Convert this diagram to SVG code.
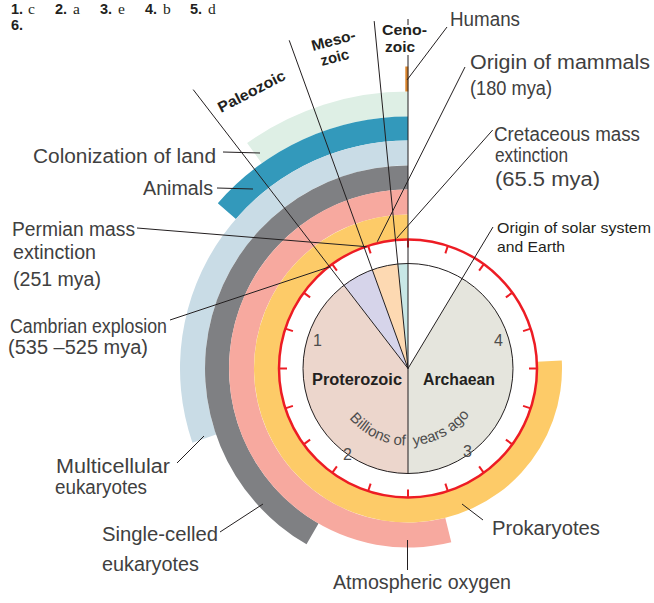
<svg xmlns="http://www.w3.org/2000/svg" xmlns:xlink="http://www.w3.org/1999/xlink" width="654" height="603" viewBox="0 0 654 603">
  <style>
    .hand { font-family: "Liberation Sans", "DejaVu Sans", sans-serif; font-size: 20px; fill: #404040; }
    .era { font-family: "Liberation Sans", "DejaVu Sans", sans-serif; font-size: 15px; font-weight: bold; fill: #231f20; }
    .print { font-family: "Liberation Sans", "DejaVu Sans", sans-serif; font-size: 15px; fill: #231f20; }
    .num { font-family: "Liberation Sans", "DejaVu Sans", sans-serif; font-size: 16px; fill: #4d4d4d; }
    .arc { font-family: "Liberation Sans", "DejaVu Sans", sans-serif; font-size: 15px; fill: #4d4d4d; }
    .qn { font-family: "Liberation Sans", "DejaVu Sans", sans-serif; font-size: 14.5px; font-weight: bold; fill: #231f20; }
    .qa { font-family: "Liberation Serif", "DejaVu Serif", serif; font-size: 15.5px; fill: #231f20; }
    .ln { stroke: #231f20; stroke-width: 1; fill: none; }
    .tick { stroke: #ed1c24; stroke-width: 2; }
  </style>
  <defs>
    <line id="tick" class="tick" x1="408" y1="239.5" x2="408" y2="247.5"/>
    <path id="yearsArc" d="M331,368.5 A77,77 0 0 0 485,368.5"/>
  </defs>

  <rect width="654" height="603" fill="#ffffff"/>

  <!-- answer key -->
  <g id="answers">
    <text class="qn" x="11" y="13.5">1.</text><text class="qa" x="28" y="13.5">c</text>
    <text class="qn" x="55" y="13.5">2.</text><text class="qa" x="73" y="13.5">a</text>
    <text class="qn" x="100" y="13.5">3.</text><text class="qa" x="118" y="13.5">e</text>
    <text class="qn" x="145" y="13.5">4.</text><text class="qa" x="163" y="13.5">b</text>
    <text class="qn" x="190" y="13.5">5.</text><text class="qa" x="208" y="13.5">d</text>
    <text class="qn" x="11" y="30">6.</text>
  </g>

  <!-- life bands, all starting at the present (top) and running back in time anticlockwise -->
  <g id="bands">
    <path id="band-land" fill="#deefe5" d="M408,91.5 A277,277 0 0 0 247.1,143.0 L261.7,163.3 A252,252 0 0 1 408,116.5 Z"/>
    <path id="band-animals" fill="#3399bb" d="M408,116.5 A252,252 0 0 0 217.8,203.2 L235.9,218.9 A228,228 0 0 1 408,140.5 Z"/>
    <path id="band-multicellular" fill="#c9dce6" d="M408,140.5 A228,228 0 0 0 192.4,442.7 L216.1,434.6 A203,203 0 0 1 408,165.5 Z"/>
    <path id="band-single" fill="#7f8083" d="M408,165.5 A203,203 0 0 0 306.5,544.3 L318.5,523.5 A179,179 0 0 1 408,189.5 Z"/>
    <path id="band-oxygen" fill="#f7a99f" d="M408,189.5 A179,179 0 1 0 451.3,542.2 L445.3,517.9 A154,154 0 1 1 408,214.5 Z"/>
    <path id="band-prokaryotes" fill="#fdcb68" d="M408,214.5 A154,154 0 1 0 561.8,360.4 L536.8,361.7 A129,129 0 1 1 408,239.5 Z"/>
  </g>

  <!-- geologic clock -->
  <g id="clock">
    <path id="eon-cenozoic" fill="#c8e7e6" d="M408,368.5 L408,263.5 A105,105 0 0 0 397.8,264.0 Z"/>
    <path id="eon-mesozoic" fill="#fdd9b2" d="M408,368.5 L397.8,264.0 A105,105 0 0 0 372.3,269.8 Z"/>
    <path id="eon-paleozoic" fill="#d6d4ea" d="M408,368.5 L372.3,269.8 A105,105 0 0 0 343.9,285.3 Z"/>
    <path id="eon-proterozoic" fill="#ecd6cc" d="M408,368.5 L343.9,285.3 A105,105 0 0 0 408,473.5 Z"/>
    <path id="eon-archaean" fill="#e5e5dd" d="M408,368.5 L408,473.5 A105,105 0 0 0 462.1,278.5 Z"/>
    <circle cx="408" cy="368.5" r="105" class="ln"/>
    <circle id="ring" cx="408" cy="368.5" r="129" fill="none" stroke="#ed1c24" stroke-width="2.5"/>
    <g id="ticks">
      <use href="#tick"/>
      <use href="#tick" transform="rotate(18 408 368.5)"/>
      <use href="#tick" transform="rotate(36 408 368.5)"/>
      <use href="#tick" transform="rotate(54 408 368.5)"/>
      <use href="#tick" transform="rotate(72 408 368.5)"/>
      <use href="#tick" transform="rotate(90 408 368.5)"/>
      <use href="#tick" transform="rotate(108 408 368.5)"/>
      <use href="#tick" transform="rotate(126 408 368.5)"/>
      <use href="#tick" transform="rotate(144 408 368.5)"/>
      <use href="#tick" transform="rotate(162 408 368.5)"/>
      <use href="#tick" transform="rotate(180 408 368.5)"/>
      <use href="#tick" transform="rotate(198 408 368.5)"/>
      <use href="#tick" transform="rotate(216 408 368.5)"/>
      <use href="#tick" transform="rotate(234 408 368.5)"/>
      <use href="#tick" transform="rotate(252 408 368.5)"/>
      <use href="#tick" transform="rotate(270 408 368.5)"/>
      <use href="#tick" transform="rotate(288 408 368.5)"/>
      <use href="#tick" transform="rotate(306 408 368.5)"/>
      <use href="#tick" transform="rotate(324 408 368.5)"/>
      <use href="#tick" transform="rotate(342 408 368.5)"/>
    </g>
    <rect id="humans-mark" x="405.3" y="66.5" width="3" height="25" fill="#d9832b"/>
  </g>

  <!-- era dividers and label leaders -->
  <g id="connectors" class="ln">
    <line x1="193.2" y1="89.6" x2="408" y2="368.5"/>
    <line x1="289.2" y1="40.3" x2="408" y2="368.5"/>
    <line x1="374.2" y1="21.1" x2="408" y2="368.5"/>
    <line x1="408" y1="19" x2="408" y2="25"/>
    <line x1="408" y1="55" x2="408" y2="473.5"/>
    <line x1="493" y1="227" x2="408" y2="368.5"/>
    <line x1="447" y1="27" x2="407" y2="80"/>
    <line x1="465" y1="67" x2="377.3" y2="241.7"/>
    <line x1="492.7" y1="130" x2="396.7" y2="238.3"/>
    <line x1="223" y1="152" x2="260" y2="153"/>
    <line x1="217" y1="188" x2="253" y2="189"/>
    <line x1="137" y1="228" x2="366.7" y2="246.7"/>
    <line x1="170" y1="320" x2="330" y2="266.7"/>
    <line x1="177" y1="463" x2="204" y2="436"/>
    <line x1="220" y1="532" x2="263" y2="504"/>
    <line x1="462" y1="504" x2="483" y2="520"/>
    <line x1="407.5" y1="540" x2="407.5" y2="570"/>
  </g>

  <!-- era names -->
  <g id="era-labels">
    <text class="era" x="221" y="113" textLength="74" lengthAdjust="spacingAndGlyphs" transform="rotate(-27.4 221 113)">Paleozoic</text>
    <text class="era" x="313" y="51" textLength="45" lengthAdjust="spacingAndGlyphs" transform="rotate(-15 313 51)">Meso-</text>
    <text class="era" x="322" y="66" textLength="29" lengthAdjust="spacingAndGlyphs" transform="rotate(-15 322 66)">zoic</text>
    <text class="era" x="382" y="35" textLength="45" lengthAdjust="spacingAndGlyphs">Ceno-</text>
    <text class="era" x="385" y="51.5" textLength="30" lengthAdjust="spacingAndGlyphs">zoic</text>
    <text class="era" x="312" y="385" style="font-size:16px" textLength="90" lengthAdjust="spacingAndGlyphs">Proterozoic</text>
    <text class="era" x="423" y="385" style="font-size:16px" textLength="72" lengthAdjust="spacingAndGlyphs">Archaean</text>
  </g>

  <!-- clock scale; the curved caption is set word by word along one arc -->
  <g id="scale">
    <text class="num" x="313" y="346">1</text>
    <text class="num" x="343" y="460">2</text>
    <text class="num" x="463" y="457">3</text>
    <text class="num" x="494" y="346">4</text>
    <text class="arc"><textPath href="#yearsArc" startOffset="54">Billions</textPath></text>
    <text class="arc"><textPath href="#yearsArc" startOffset="105.6">of</textPath></text>
    <text class="arc"><textPath href="#yearsArc" startOffset="126">years</textPath></text>
    <text class="arc"><textPath href="#yearsArc" startOffset="166.8">ago</textPath></text>
  </g>

  <!-- event and group labels -->
  <g id="label-humans"><text class="hand" x="450" y="26" textLength="70" lengthAdjust="spacingAndGlyphs">Humans</text></g>
  <g id="label-mammals">
    <text class="hand" x="470" y="69" textLength="180" lengthAdjust="spacingAndGlyphs">Origin of mammals</text>
    <text class="hand" x="470" y="95" textLength="82" lengthAdjust="spacingAndGlyphs">(180 mya)</text>
  </g>
  <g id="label-cretaceous">
    <text class="hand" x="494" y="141" textLength="146" lengthAdjust="spacingAndGlyphs">Cretaceous mass</text>
    <text class="hand" x="495" y="162" textLength="73" lengthAdjust="spacingAndGlyphs">extinction</text>
    <text class="hand" x="495" y="186" textLength="105" lengthAdjust="spacingAndGlyphs">(65.5 mya)</text>
  </g>
  <g id="label-solar">
    <text class="print" x="497" y="233" textLength="154" lengthAdjust="spacingAndGlyphs">Origin of solar system</text>
    <text class="print" x="497" y="252" textLength="68" lengthAdjust="spacingAndGlyphs">and Earth</text>
  </g>
  <g id="label-land"><text class="hand" x="33" y="163" textLength="183" lengthAdjust="spacingAndGlyphs">Colonization of land</text></g>
  <g id="label-animals"><text class="hand" x="143" y="195" textLength="70" lengthAdjust="spacingAndGlyphs">Animals</text></g>
  <g id="label-permian">
    <text class="hand" x="12" y="236" textLength="123" lengthAdjust="spacingAndGlyphs">Permian mass</text>
    <text class="hand" x="13" y="259" textLength="83" lengthAdjust="spacingAndGlyphs">extinction</text>
    <text class="hand" x="13" y="286" textLength="88" lengthAdjust="spacingAndGlyphs">(251 mya)</text>
  </g>
  <g id="label-cambrian">
    <text class="hand" x="10" y="333" textLength="157" lengthAdjust="spacingAndGlyphs">Cambrian explosion</text>
    <text class="hand" x="8" y="354" textLength="140" lengthAdjust="spacingAndGlyphs">(535 –525 mya)</text>
  </g>
  <g id="label-multicellular">
    <text class="hand" x="56" y="473" textLength="114" lengthAdjust="spacingAndGlyphs">Multicellular</text>
    <text class="hand" x="55" y="494" textLength="92" lengthAdjust="spacingAndGlyphs">eukaryotes</text>
  </g>
  <g id="label-single">
    <text class="hand" x="102" y="541" textLength="116" lengthAdjust="spacingAndGlyphs">Single-celled</text>
    <text class="hand" x="102" y="571" textLength="97" lengthAdjust="spacingAndGlyphs">eukaryotes</text>
  </g>
  <g id="label-prokaryotes"><text class="hand" x="492" y="535" textLength="108" lengthAdjust="spacingAndGlyphs">Prokaryotes</text></g>
  <g id="label-oxygen"><text class="hand" x="333" y="589" textLength="178" lengthAdjust="spacingAndGlyphs">Atmospheric oxygen</text></g>
</svg>
